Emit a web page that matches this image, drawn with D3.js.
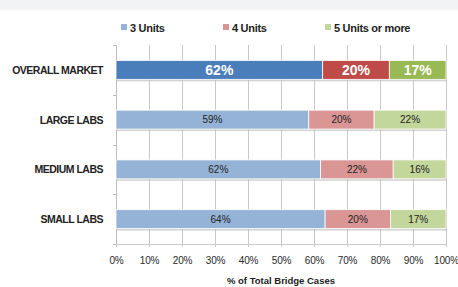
<!DOCTYPE html>
<html lang="en">
<head>
<meta charset="utf-8">
<title>Bridge cases by units</title>
<script src="https://cdn.jsdelivr.net/npm/d3@7"></script>
<style>
  body { margin: 0; background: #fff; }
  text { font-family: "Liberation Sans", Arial, sans-serif; }
</style>
</head>
<body>
<script>
// data (percent labels as printed)
var categories = ["OVERALL MARKET", "LARGE LABS", "MEDIUM LABS", "SMALL LABS"];
var seriesNames = ["3 Units", "4 Units", "5 Units or more"];
var threeUnits = [62, 59, 62, 64];
var fourUnits = [20, 20, 22, 20];
var fiveUnits = [17, 22, 16, 17];
var tickValues = [0, 0.1, 0.2, 0.3, 0.4, 0.5, 0.6, 0.7, 0.8, 0.9, 1];

var w = 458, h = 287;
// plot box (don't call it "top", that's window.top)
var pLeft = 116, pRight = 446, pTop = 45, pBottom = 244;

// strong colours for the overall row, pale ones for the lab rows
var strong = ["#4a7ebb", "#be4b48", "#98b954"];
var pale = ["#95b3d7", "#d99694", "#c3d69b"];

var rows = categories.map(function(c, i) {
  return { cat: c, i: i, "3 Units": threeUnits[i], "4 Units": fourUnits[i], "5 Units or more": fiveUnits[i] };
});
// 100% stacked: each row normalised to its own total
var stack = d3.stack().keys(seriesNames).offset(d3.stackOffsetExpand);
var layers = stack(rows);

var x = d3.scaleLinear().domain([0, 1]).range([pLeft, pRight]);
var y = d3.scaleBand().domain(categories).range([pTop, pBottom]).paddingInner(0.62).paddingOuter(0.31);

var svg = d3.select("body").append("svg").attr("width", w).attr("height", h);

// pale band across the top
svg.append("rect").attr("x", 0).attr("y", 0).attr("width", w).attr("height", 10).attr("fill", "#f2f3f5");

// vertical gridlines + tick marks below
var xAxis = d3.axisBottom(x).tickValues(tickValues).tickFormat(d3.format(".0%"))
  .tickSize(0).tickSizeOuter(0).tickPadding(10);
var gx = svg.append("g").attr("transform", "translate(0," + (pBottom + 3) + ")").call(xAxis);
gx.select(".domain").remove();
gx.selectAll("line").attr("stroke", "#c9c9c9").attr("y1", 0).attr("y2", -(pBottom - pTop) - 3);
gx.selectAll("text").attr("font-size", "10px").attr("fill", "#2a2a2a").attr("letter-spacing", "-0.2px");

// horizontal axis line
svg.append("line").attr("x1", pLeft).attr("x2", pRight).attr("y1", pBottom + 0.5).attr("y2", pBottom + 0.5).attr("stroke", "#c9c9c9");

// left axis with category boundary ticks
var bounds = d3.range(categories.length + 1).map(function(k) { return pTop + k * (pBottom - pTop) / categories.length; });
svg.append("line").attr("x1", pLeft + 0.5).attr("x2", pLeft + 0.5).attr("y1", pTop).attr("y2", pBottom).attr("stroke", "#bdbdbd");
svg.selectAll(".ytick").data(bounds).enter().append("line")
  .attr("x1", pLeft - 3).attr("x2", pLeft).attr("y1", function(d) { return Math.round(d) + 0.5; })
  .attr("y2", function(d) { return Math.round(d) + 0.5; }).attr("stroke", "#bdbdbd");

// category labels
svg.selectAll(".cat").data(categories).enter().append("text")
  .attr("x", pLeft - 13).attr("y", function(d) { return y(d) + y.bandwidth() / 2 + 4; })
  .attr("text-anchor", "end").attr("font-size", "10.5px").attr("font-weight", "bold").attr("fill", "#222")
  .attr("letter-spacing", "-0.5px")
  .text(function(d) { return d; });

// bar shadows
svg.selectAll(".shadow").data(rows).enter().append("rect")
  .attr("x", x(0) + 1).attr("y", function(d) { return y(d.cat) + 2; })
  .attr("width", x(1) - x(0)).attr("height", y.bandwidth())
  .attr("fill", "#b8b8b8").attr("opacity", 0.6);

// stacked segments
layers.forEach(function(layer, s) {
  var g = svg.append("g");
  g.selectAll("rect").data(layer).enter().append("rect")
    .attr("x", function(d) { return x(d[0]); })
    .attr("y", function(d) { return y(d.data.cat); })
    .attr("width", function(d) { return x(d[1]) - x(d[0]); })
    .attr("height", y.bandwidth())
    .attr("fill", function(d) { return d.data.i === 0 ? strong[s] : pale[s]; })
    .attr("stroke", "#fff").attr("stroke-width", 0.8);
  g.selectAll("text").data(layer).enter().append("text")
    .attr("x", function(d) { return (x(d[0]) + x(d[1])) / 2; })
    .attr("y", function(d) { return y(d.data.cat) + y.bandwidth() / 2 + (d.data.i === 0 ? 5 : 3.5); })
    .attr("text-anchor", "middle")
    .attr("font-size", function(d) { return d.data.i === 0 ? "14px" : "10px"; })
    .attr("font-weight", function(d) { return d.data.i === 0 ? "bold" : "normal"; })
    .attr("fill", function(d) { return d.data.i === 0 ? "#fff" : "#222"; })
    .text(function(d) { return d.data[layer.key] + "%"; });
});

// legend
var legendX = [121, 223, 325];
var lg = svg.selectAll(".lg").data(seriesNames).enter().append("g")
  .attr("transform", function(d, i) { return "translate(" + legendX[i] + ",23)"; });
lg.append("rect").attr("width", 6).attr("height", 6).attr("y", 1).attr("fill", function(d, i) { return pale[i]; });
lg.append("text").attr("x", 9).attr("y", 8.5).attr("font-size", "11px").attr("font-weight", "bold").attr("fill", "#222")
  .attr("letter-spacing", "-0.3px")
  .text(function(d) { return d; });

// axis title
svg.append("text").attr("x", (pLeft + pRight) / 2).attr("y", 284).attr("text-anchor", "middle")
  .attr("font-size", "9.5px").attr("font-weight", "bold").attr("fill", "#222").text("% of Total Bridge Cases");
</script>
</body>
</html>
